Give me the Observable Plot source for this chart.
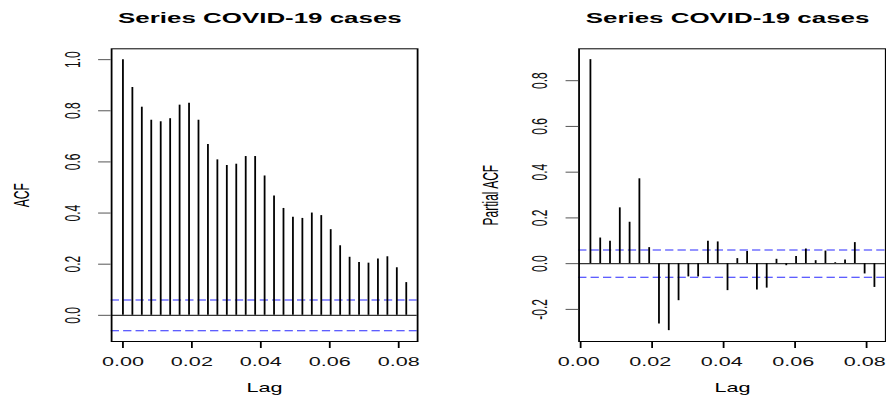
<!DOCTYPE html>
<html>
<head>
<meta charset="utf-8">
<script src="https://cdn.jsdelivr.net/npm/d3@7"></script>
<script src="https://cdn.jsdelivr.net/npm/@observablehq/plot@0.6"></script>
<style>
  html, body { margin: 0; padding: 0; background: #fff; }
  #wrap { display: flex; width: 492.22px; height: 396px; transform: scaleX(1.8); transform-origin: 0 0; }
  #wrap svg { flex: none; }
</style>
</head>
<body>
<div id="wrap"></div>
<script>
// ---- data ----
const chartTitle = "Series COVID-19 cases";
const lagFrequency = 365; // lag unit: days / 365
const acfLagDays = [0,1,2,3,4,5,6,7,8,9,10,11,12,13,14,15,16,17,18,19,20,21,22,23,24,25,26,27,28,29,30];
const acfValues = [1.000,0.891,0.814,0.763,0.757,0.769,0.822,0.829,0.763,0.668,0.608,0.586,0.591,0.621,0.621,
                   0.545,0.467,0.418,0.384,0.379,0.400,0.390,0.335,0.272,0.227,0.207,0.204,0.220,0.229,0.186,0.128];
const pacfLagDays = [1,2,3,4,5,6,7,8,9,10,11,12,13,14,15,16,17,18,19,20,21,22,23,24,25,26,27,28,29,30];
const pacfValues = [0.892,0.112,0.098,0.244,0.181,0.371,0.070,-0.264,-0.293,-0.162,-0.058,-0.058,0.098,0.095,-0.118,
                    0.022,0.053,-0.115,-0.107,0.019,-0.009,0.031,0.064,0.013,0.055,0.004,0.016,0.092,-0.045,-0.104];
const ciBound = 0.06;
const xTicks = [0, 0.02, 0.04, 0.06, 0.08];
const acfYTicks = [0, 0.2, 0.4, 0.6, 0.8, 1.0];
const pacfYTicks = [-0.2, 0, 0.2, 0.4, 0.6, 0.8];
const xLabel = "Lag";
const acfYLabel = "ACF";
const pacfYLabel = "Partial ACF";

// ---- layout ----
const S = 1.8;              // horizontal stretch of the reference picture
const PW = 443 / S;         // each panel's (unstretched) width
const font = "'Liberation Sans', Arial, Helvetica, sans-serif";

function padRange(vals) {
  const [lo, hi] = d3.extent(vals);
  const p = (hi - lo) * 0.04;
  return [lo - p, hi + p];
}

function panel({days, values, yTicks, yLabel, marginLeft, marginRight, titleDx, yLabelDx, xTextDx}) {
  const data = days.map((d, i) => ({lag: d / lagFrequency, value: values[i]}));
  const xDomain = padRange(data.map(d => d.lag));
  const yDomain = padRange([...values, ciBound, -ciBound]);
  return Plot.plot({
    width: PW,
    height: 396,
    marginLeft,
    marginRight,
    marginTop: 48.3,
    marginBottom: 55,
    x: {type: "linear", domain: xDomain},
    y: {type: "linear", domain: yDomain},
    style: {fontFamily: font, fontSize: "12px", color: "#000", background: "transparent", overflow: "visible"},
    marks: [
      Plot.ruleY([0], {stroke: "#333", strokeWidth: 1.2}),
      Plot.ruleY([ciBound, -ciBound], {stroke: "#2a2aff", strokeWidth: 1, strokeDasharray: "4.6,2.3"}),
      Plot.ruleX(data, {x: "lag", y1: 0, y2: "value", stroke: "#000", strokeWidth: 1}),
      Plot.frame({stroke: "#000", strokeWidth: 1}),
      Plot.axisX(xTicks, {tickSize: 7, stroke: "#000", fill: "none", label: null}),
      Plot.text(xTicks, {x: d => d, text: d => d.toFixed(2), frameAnchor: "bottom", dy: 16, dx: xTextDx,
                         textAnchor: "middle", lineAnchor: "top", fill: "#111", fontSize: 12}),
      Plot.axisY(yTicks, {tickSize: 7, fill: "none", stroke: "#555", label: null}),
      Plot.text(yTicks, {y: d => d, text: d => d.toFixed(1), frameAnchor: "left", rotate: -90,
                         dx: -21.6, textAnchor: "middle", lineAnchor: "middle", fill: "#111", fontSize: 12}),
      Plot.text([yLabel], {frameAnchor: "left", rotate: -90, dx: yLabelDx,
                           textAnchor: "middle", lineAnchor: "middle", fill: "#000", fontSize: 12}),
      Plot.text([xLabel], {frameAnchor: "bottom", dy: 47, textAnchor: "middle", lineAnchor: "middle", fill: "#000", fontSize: 12}),
      Plot.text([chartTitle], {frameAnchor: "top", dy: -30.3, dx: titleDx, textAnchor: "middle", lineAnchor: "middle",
                               fill: "#000", fontSize: 14.4, fontWeight: "bold"})
    ]
  });
}

const wrap = document.getElementById("wrap");
wrap.append(panel({days: acfLagDays, values: acfValues, yTicks: acfYTicks, yLabel: acfYLabel,
                   marginLeft: 61.5, marginRight: PW - 231.5, titleDx: -2.6, yLabelDx: -50, xTextDx: 0}));
wrap.append(panel({days: pacfLagDays, values: pacfValues, yTicks: pacfYTicks, yLabel: pacfYLabel,
                   marginLeft: 75.2, marginRight: PW - 245.6, titleDx: -2.7, yLabelDx: -48.7, xTextDx: -1.0}));
</script>
</body>
</html>
